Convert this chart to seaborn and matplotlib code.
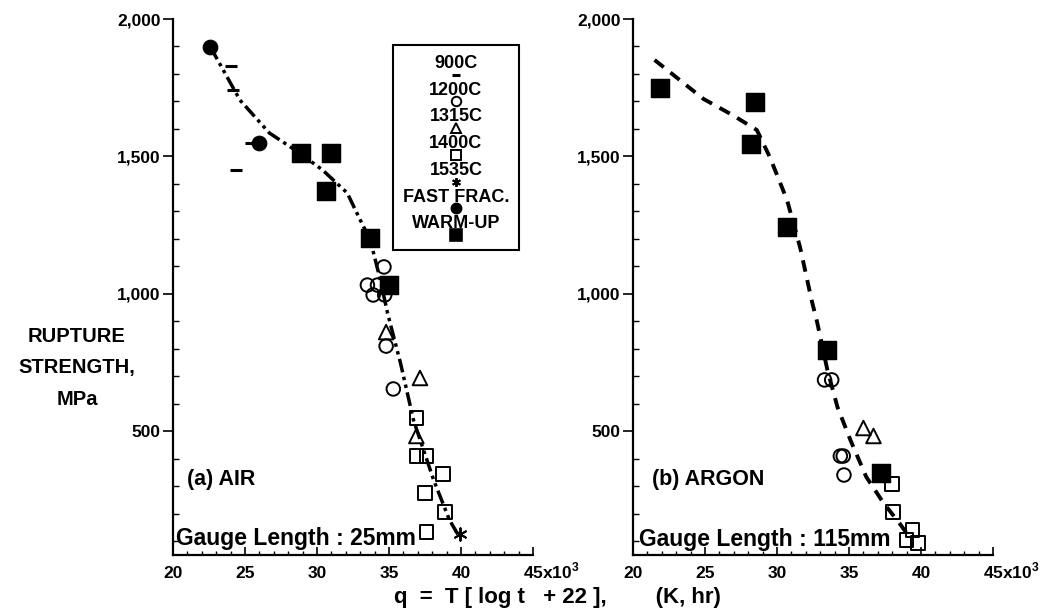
import matplotlib
matplotlib.use("Agg")
import matplotlib.pyplot as plt
import matplotlib.transforms as mtransforms
import seaborn as sns
import pandas as pd
from matplotlib.lines import Line2D
from matplotlib.offsetbox import AnchoredOffsetbox, VPacker, TextArea, DrawingArea

# ---- (a) AIR, gauge length 25 mm ----
air_900_q = [24.0, 24.2, 24.4, 25.4]
air_900_s = [1830, 1740, 1450, 1550]
air_1200_q = [34.65, 33.5, 34.2, 33.9, 34.7, 34.8, 35.3]
air_1200_s = [1098, 1032, 1032, 996, 996, 810, 654]
air_1315_q = [34.8, 37.15, 36.9]
air_1315_s = [861, 694, 483]
air_1400_q = [36.9, 36.9, 37.6, 38.75, 37.5, 38.9, 37.6]
air_1400_s = [548, 410, 410, 345, 275, 206, 134]
air_1535_q = [39.9]
air_1535_s = [125]
air_fast_q = [22.6, 26.0]
air_fast_s = [1898, 1549]
air_warm_q = [28.9, 31.0, 30.6, 33.7, 35.0]
air_warm_s = [1512, 1512, 1374, 1203, 1032]
air_fit_q = [22.6, 24.65, 26.7, 28.8, 30.4, 32.1, 33.0, 33.7, 34.4, 34.9,
             35.8, 36.7, 38.1, 39.2, 39.9]
air_fit_s = [1898, 1705, 1585, 1512, 1450, 1367, 1269, 1196, 1050, 930,
             748, 541, 323, 177, 115]

# ---- (b) ARGON, gauge length 115 mm ----
arg_1200_q = [33.3, 33.8, 34.4, 34.6, 34.65]
arg_1200_s = [687, 687, 410, 410, 341]
arg_1315_q = [36.0, 36.7]
arg_1315_s = [512, 483]
arg_1400_q = [38.0, 38.05, 39.4, 39.0, 39.8]
arg_1400_s = [308, 206, 141, 105, 94]
arg_warm_q = [21.9, 28.5, 28.2, 30.7, 33.5, 37.2]
arg_warm_s = [1749, 1698, 1545, 1243, 796, 348]
arg_fit_q = [21.5, 24.9, 26.9, 28.6, 29.5, 30.7, 31.6, 32.4, 32.8, 33.5,
             34.2, 35.1, 36.2, 37.4, 38.5, 39.2]
arg_fit_s = [1851, 1709, 1651, 1596, 1498, 1341, 1170, 978, 894, 723,
             588, 468, 334, 239, 166, 115]

conditions = ["900C", "1200C", "1315C", "1400C", "1535C", "FAST FRAC.", "WARM-UP"]
xtick_values = [20, 25, 30, 35, 40, 45]
xtick_labels = ["20", "25", "30", "35", "40", "45x10$^3$"]
ytick_values = [500, 1000, 1500, 2000]
ytick_labels = ["500", "1,000", "1,500", "2,000"]

sns.set_style("ticks", rc={"axes.edgecolor": "black", "text.color": "black",
                           "axes.labelcolor": "black", "xtick.color": "black",
                           "ytick.color": "black"})
plt.rcParams["font.family"] = ["Liberation Sans", "DejaVu Sans"]
plt.rcParams["font.weight"] = "bold"
plt.rcParams["mathtext.fontset"] = "custom"
plt.rcParams["mathtext.rm"] = "Liberation Sans"
plt.rcParams["mathtext.bf"] = "Liberation Sans:bold"

styles = {
    "900C": dict(marker="_", s=70, color="black", linewidth=2.2),
    "1200C": dict(marker="o", s=95, facecolor="none", edgecolor="black", linewidth=1.4),
    "1315C": dict(marker="^", s=110, facecolor="none", edgecolor="black", linewidth=1.4),
    "1400C": dict(marker="s", s=95, facecolor="none", edgecolor="black", linewidth=1.4),
    "1535C": dict(marker=(6, 2, 0), s=80, color="black", linewidth=1.4),
    "FAST FRAC.": dict(marker="o", s=110, color="black", edgecolor="black"),
    "WARM-UP": dict(marker="s", s=170, color="black", edgecolor="black"),
}

fig = plt.figure(figsize=(10.51, 6.12), dpi=100)
ax_air = fig.add_axes([173 / 1051, 57 / 612, 360 / 1051, 536 / 612])
ax_arg = fig.add_axes([633 / 1051, 57 / 612, 360 / 1051, 536 / 612])

air_sets = {
    "900C": (air_900_q, air_900_s),
    "1200C": (air_1200_q, air_1200_s),
    "1315C": (air_1315_q, air_1315_s),
    "1400C": (air_1400_q, air_1400_s),
    "1535C": (air_1535_q, air_1535_s),
    "FAST FRAC.": (air_fast_q, air_fast_s),
    "WARM-UP": (air_warm_q, air_warm_s),
}
arg_sets = {
    "1200C": (arg_1200_q, arg_1200_s),
    "1315C": (arg_1315_q, arg_1315_s),
    "1400C": (arg_1400_q, arg_1400_s),
    "WARM-UP": (arg_warm_q, arg_warm_s),
}

# fitted master curves
sns.lineplot(x=air_fit_q, y=air_fit_s, sort=False, estimator=None, color="black",
             linewidth=2.5, linestyle=(0, (4, 1.3, 1, 1.3, 1, 1.3)), ax=ax_air,
             legend=False)
sns.lineplot(x=arg_fit_q, y=arg_fit_s, sort=False, estimator=None, color="black",
             linewidth=2.8, linestyle=(0, (3, 2.2)), ax=ax_arg, legend=False)

for ax, sets in [(ax_air, air_sets), (ax_arg, arg_sets)]:
    for cond, (q, s) in sets.items():
        df = pd.DataFrame({"q": q, "strength": s})
        sns.scatterplot(data=df, x="q", y="strength", ax=ax, zorder=3, **styles[cond])

for ax in [ax_air, ax_arg]:
    ax.set_xlim(20, 45)
    ax.set_ylim(50, 2000)
    ax.set_xticks(xtick_values)
    ax.set_xticklabels(xtick_labels)
    ax.set_yticks(ytick_values)
    ax.set_yticklabels(ytick_labels)
    ax.set_xticks(range(20, 46), minor=True)
    ax.set_yticks(range(100, 2000, 100), minor=True)
    ax.tick_params(axis="x", which="major", direction="in", length=6, width=1.2,
                   labelsize=12.5, pad=8)
    ax.tick_params(axis="x", which="minor", direction="in", length=3, width=1)
    ax.tick_params(axis="y", which="major", direction="out", length=7, width=1.2,
                   labelsize=12.5, pad=2)
    ax.tick_params(axis="y", which="minor", direction="in", length=4, width=1)
    ax.set_xlabel("")
    ax.set_ylabel("")
    for sp in ["left", "bottom"]:
        ax.spines[sp].set_linewidth(1.6)
    sns.despine(ax=ax)
    last = ax.get_xticklabels()[-1]
    last.set_horizontalalignment("left")
    last.set_transform(last.get_transform()
                       + mtransforms.ScaledTranslation(-0.10, 0.05, fig.dpi_scale_trans))

ax_air.text(21.0, 323, "(a) AIR", fontsize=15.5, fontweight="bold", va="center")
ax_arg.text(21.3, 323, "(b) ARGON", fontsize=15.5, fontweight="bold", va="center")
ax_air.text(20.2, 110, "Gauge Length : 25mm", fontsize=16.5, fontweight="bold", va="center")
ax_arg.text(20.4, 105, "Gauge Length : 115mm", fontsize=16.5, fontweight="bold", va="center")

ax_air.set_ylabel("RUPTURE\nSTRENGTH,\nMPa", rotation=0, ha="center", va="center",
                  fontsize=14.5, fontweight="bold", linespacing=1.85)
ax_air.yaxis.set_label_coords(-0.267, 0.349)

fig.text(394 / 1051, 1 - 598 / 612, "q  =  T [ log t   + 22 ],        (K, hr)",
         fontsize=16, fontweight="bold", ha="left", va="center")

# legend: label with its symbol beneath it
items = []
for cond in conditions:
    st = styles[cond]
    da = DrawingArea(20, 8, 0, 0)
    ms = (st["s"] ** 0.5) * 0.7
    face = st.get("facecolor", "black")
    da.add_artist(Line2D([10], [4], marker=st["marker"], markersize=ms,
                         markerfacecolor=face, markeredgecolor="black",
                         markeredgewidth=st.get("linewidth", 1.2), linestyle="none"))
    ta = TextArea(cond, textprops=dict(fontsize=13, fontweight="bold"))
    items.append(VPacker(children=[ta, da], align="center", pad=0, sep=-2))
box = VPacker(children=items, align="center", pad=0, sep=1)
anchored = AnchoredOffsetbox(loc="upper left", child=box, pad=0.7, borderpad=0,
                             frameon=True, bbox_to_anchor=(0.611, 0.951),
                             bbox_transform=ax_air.transAxes)
anchored.patch.set_boxstyle("square", pad=0)
anchored.patch.set_edgecolor("black")
anchored.patch.set_linewidth(1.5)
ax_air.add_artist(anchored)

fig.savefig("out.png", dpi=100)
